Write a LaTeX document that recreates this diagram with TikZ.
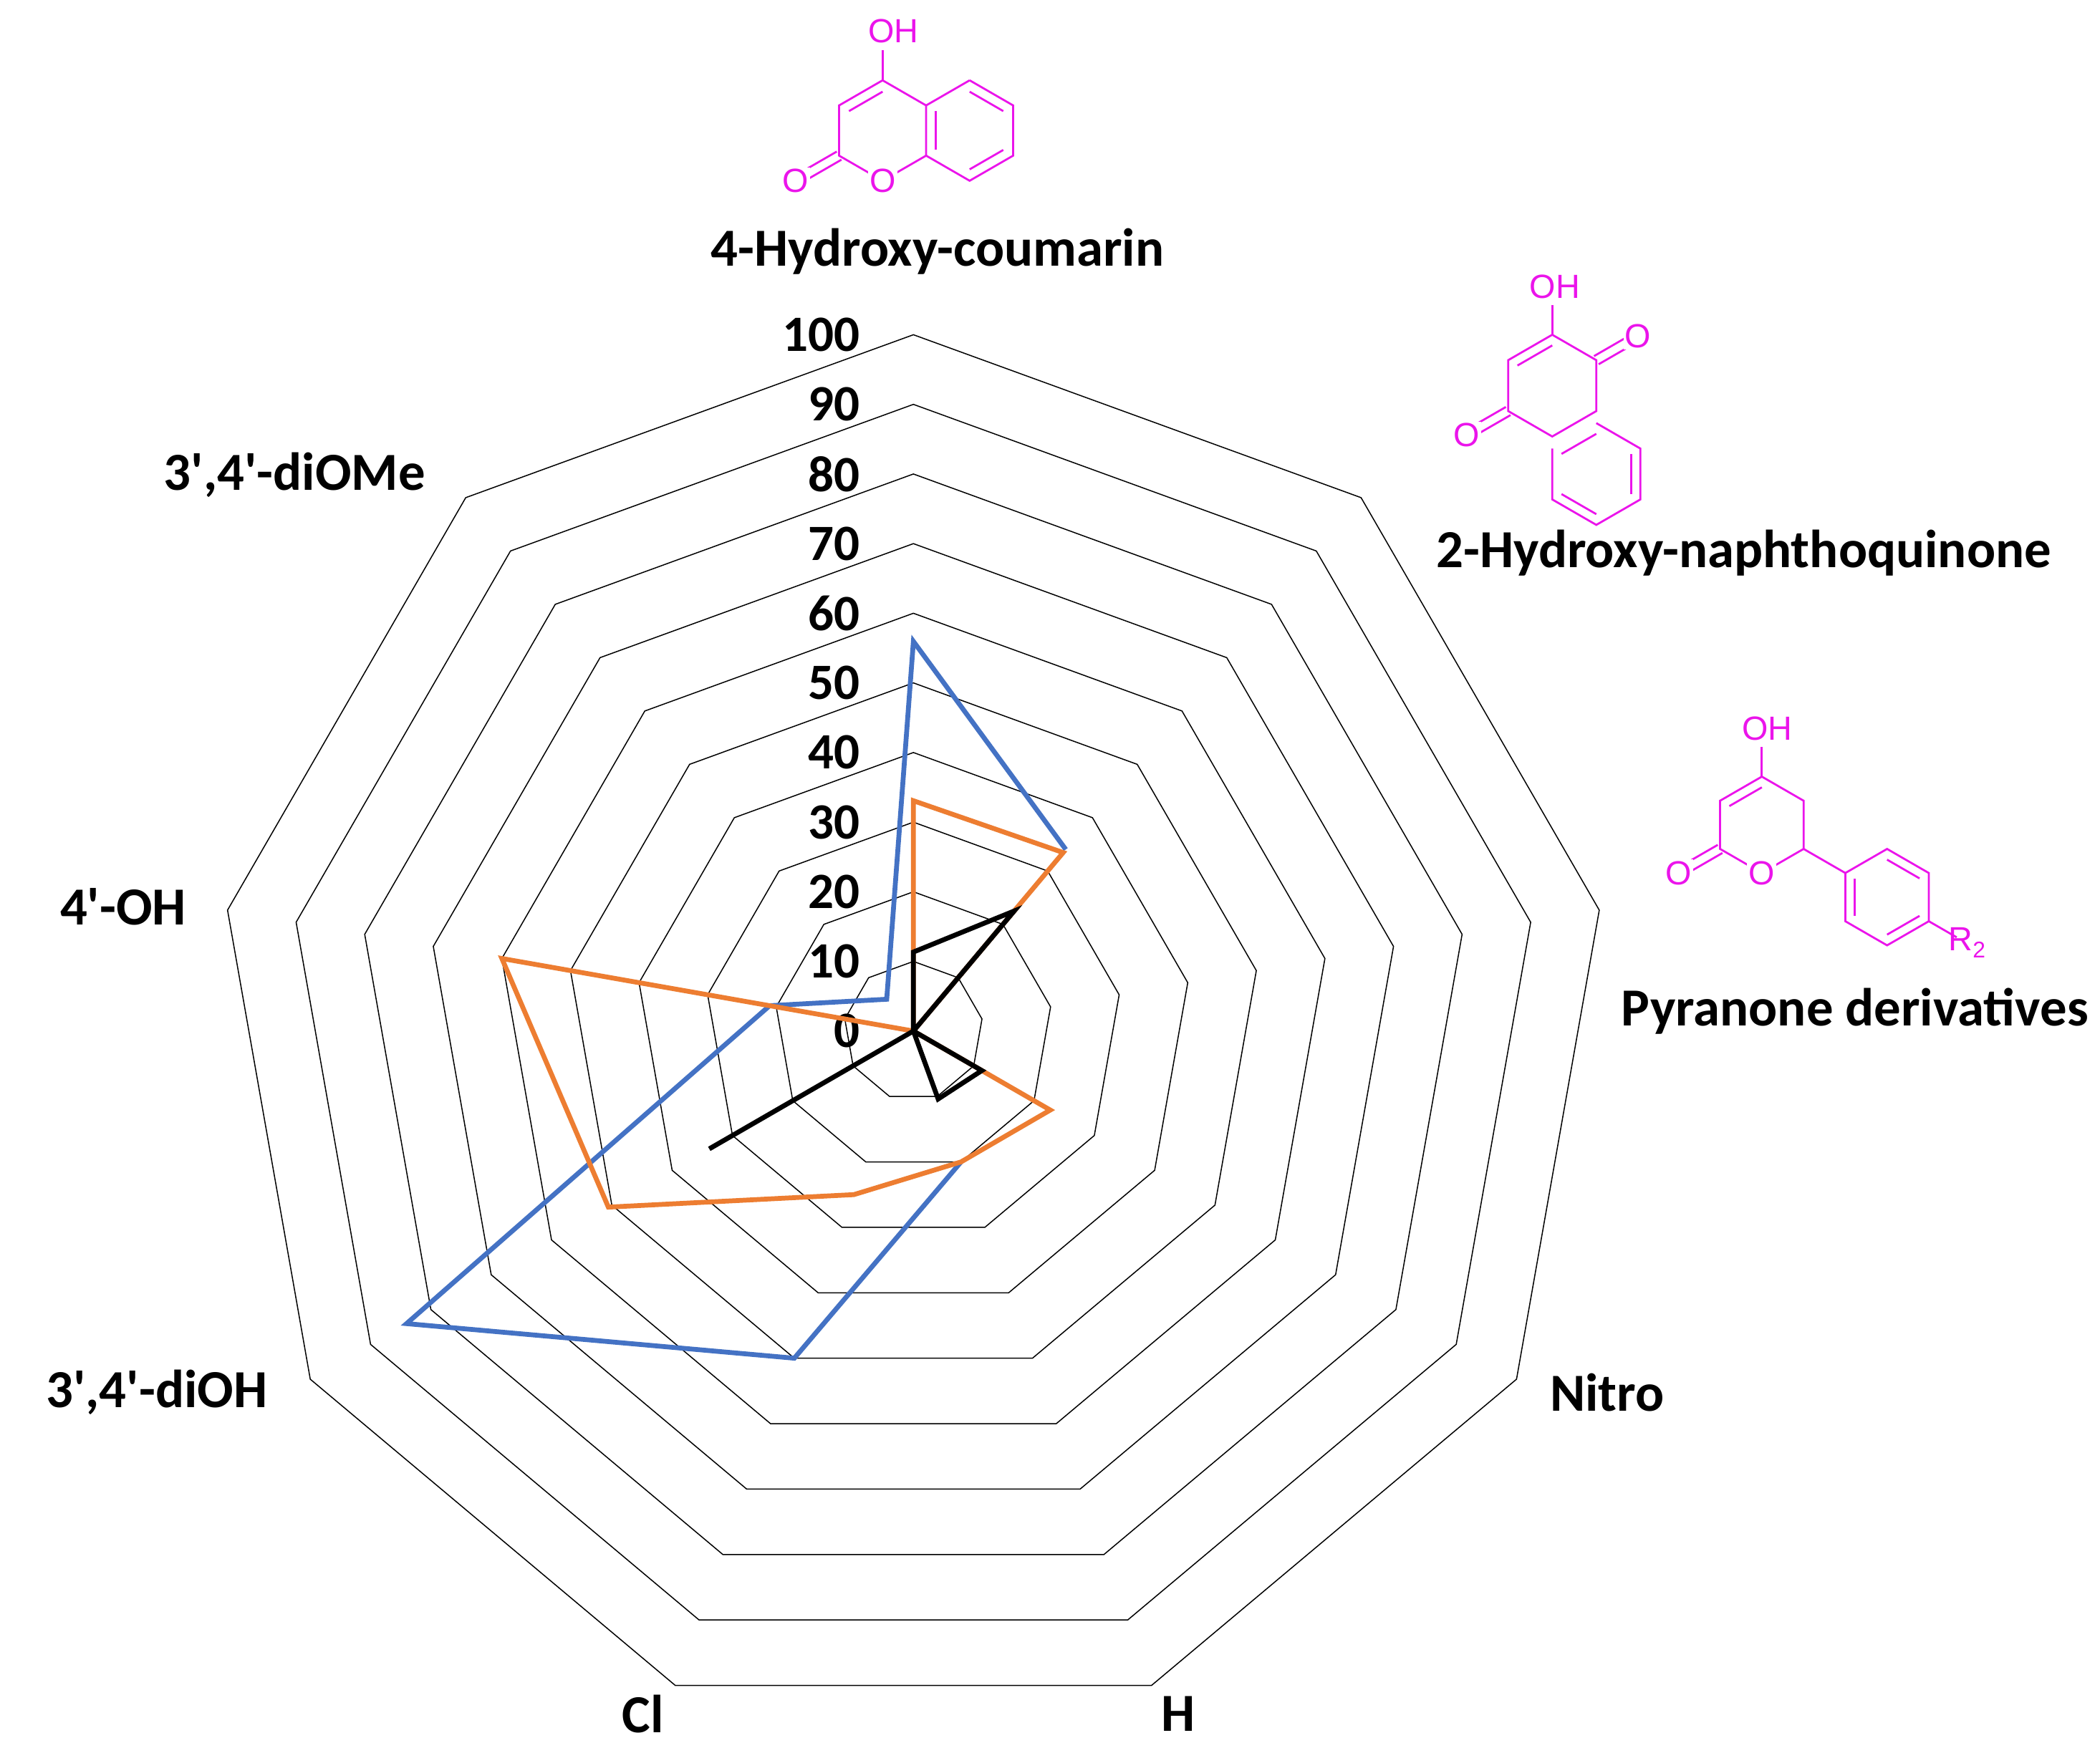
\documentclass[tikz,border=0pt]{standalone}
\usetikzlibrary{calc}
\usepackage{fontspec}
\setmainfont{Carlito}
\newfontfamily\molfont{Liberation Sans}
\definecolor{mag}{RGB}{235,20,235}
\definecolor{sblue}{RGB}{68,114,196}
\definecolor{sorange}{RGB}{237,125,49}
\newcommand\sq{\textquotesingle}
\begin{document}
\begin{tikzpicture}[x=1pt,y=1pt,
  grid/.style={draw=black,line width=0.8pt,line join=miter},
  ser/.style={line width=3.6pt,line join=miter},
  lab/.style={font=\fontsize{40}{40}\selectfont\bfseries,inner sep=0pt},
  num/.style={font=\fontsize{38}{38}\selectfont\bfseries,inner sep=0pt,anchor=east},
  mol/.style={draw=mag,line width=1.5pt},
  atom/.style={text=mag,font=\fontsize{25}{25}\molfont,inner sep=1.2pt,fill=white}]
\useasboundingbox (0,0) rectangle (1568,1305);
\fill[white] (0,0) rectangle (1568,1305);
% ---------- radar grid ----------
\begin{scope}[shift={(682,535)}]
\foreach \k in {1,...,10}{
  \pgfmathsetmacro\r{52*\k}
  \draw[grid] (90:\r) \foreach \a in {50,10,-30,-70,-110,-150,170,130}{ -- (\a:\r)} -- cycle;
}
\foreach \k in {0,...,10}{
  \pgfmathtruncatemacro\v{10*\k}
  \node[num] (n\k) at (-40,52*\k) {\v};
}
% blue (blank at axes 2 and 3)
\draw[ser,sblue] (-70:104) -- (-110:260) -- (-150:437) -- (170:109) -- (130:31) -- (90:291) -- (50:177);
% orange
\draw[ser,sorange] (90:172) -- (50:174) -- (10:0) -- (-30:118) -- (-70:104) -- (-110:130) -- (-150:263) -- (170:312) -- (130:0) -- cycle;
% black
\draw[ser,black] (90:59) -- (50:117) -- (10:0) -- (-30:59) -- (-70:54) -- (-110:0) -- (-150:176) -- (170:0) -- (130:0) -- cycle;
\end{scope}
% ---------- axis labels ----------
\node[lab] (l0) at (700,1117) {4-Hydroxy-coumarin};
\node[lab] (l1) at (1302,892) {2-Hydroxy-naphthoquinone};
\node[lab] (l2) at (1385,550) {Pyranone derivatives};
\node[lab] (l3) at (1200,265) {Nitro};
\node[lab] (l4) at (880,25) {H};
\node[lab] (l5) at (480,25) {Cl};
\node[lab] (l6) at (117,265) {3\sq,4\sq-diOH};
\node[lab] (l7) at (92,628) {4\sq-OH};
\node[lab] (l8) at (220,950) {3\sq,4\sq-diOMe};
% ---------- 4-hydroxycoumarin ----------
\begin{scope}[shift={(659,1207.5)}]
\draw[mol] (90:37.5) -- (150:37.5) -- (210:37.5) -- (270:37.5) -- (330:37.5) -- (30:37.5) -- cycle;
\draw[mol] (90:29) -- (150:29);
\draw[mol] (90:37.5) -- (0,60);
\node[atom,fill=none] (c_oh) at (8,74) {OH};
\draw[mol] ($(210:37.5)+(120:3.5)$) -- ($(210:66)+(120:3.5)$);
\draw[mol] ($(210:37.5)+(-60:3.5)$) -- ($(210:66)+(-60:3.5)$);
\node[atom] (c_o2) at (210:75) {O};
\node[atom] (c_o1) at (270:37.5) {O};
\begin{scope}[shift={(65,0)}]
\draw[mol] (90:37.5) -- (30:37.5) -- (330:37.5) -- (270:37.5) -- (210:37.5);
\draw[mol] (90:29) -- (30:29);
\draw[mol] (330:29) -- (270:29);
\draw[mol] (210:29) -- (150:29);
\draw[mol] (90:37.5) -- (150:37.5);
\end{scope}
\end{scope}
% ---------- 2-hydroxynaphthoquinone ----------
\begin{scope}[shift={(1159,1017)}]
\draw[mol] (90:38) -- (150:38) -- (210:38) -- (270:38) -- (330:38) -- (30:38) -- cycle;
\draw[mol] (90:30) -- (150:30);
\draw[mol] (90:38) -- (0,60);
\node[atom,fill=none] (n_oh) at (2,74) {OH};
\draw[mol] ($(30:38)+(120:3.5)$) -- ($(30:64)+(120:3.5)$);
\draw[mol] ($(30:38)+(-60:3.5)$) -- ($(30:64)+(-60:3.5)$);
\node[atom] (n_o1) at (30:74) {O};
\draw[mol] ($(210:38)+(120:3.5)$) -- ($(210:64)+(120:3.5)$);
\draw[mol] ($(210:38)+(-60:3.5)$) -- ($(210:64)+(-60:3.5)$);
\node[atom] (n_o4) at (210:74) {O};
\end{scope}
\begin{scope}[shift={(1191.9,951)}]
\draw[mol] (90:38) -- (30:38) -- (330:38) -- (270:38) -- (210:38) -- (150:38);
\draw[mol] (90:30) -- (150:30);
\draw[mol] (30:30) -- (330:30);
\draw[mol] (270:30) -- (210:30);
\end{scope}
% ---------- pyranone ----------
\begin{scope}[shift={(1315.5,689)}]
\draw[mol] (90:36) -- (150:36) -- (210:36) -- (270:36) -- (330:36) -- (30:36) -- cycle;
\draw[mol] (90:28) -- (150:28);
\draw[mol] (90:36) -- (0,58);
\node[atom,fill=none] (p_oh) at (4,72) {OH};
\draw[mol] ($(210:36)+(120:3.5)$) -- ($(210:62)+(120:3.5)$);
\draw[mol] ($(210:36)+(-60:3.5)$) -- ($(210:62)+(-60:3.5)$);
\node[atom] (p_o2) at (210:72) {O};
\node[atom] (p_o1) at (270:36) {O};
\draw[mol] (330:36) -- ++(330:36);
\end{scope}
\begin{scope}[shift={(1409,635)}]
\draw[mol] (150:36) -- (90:36) -- (30:36) -- (330:36) -- (270:36) -- (210:36) -- cycle;
\draw[mol] (90:28) -- (30:28);
\draw[mol] (330:28) -- (270:28);
\draw[mol] (210:28) -- (150:28);
\draw[mol] (330:36) -- ++(330:24);
\node[atom,fill=none,anchor=west] (p_r) at ($(330:56)+(-4,-6)$) {R\raisebox{-5pt}{\fontsize{17}{17}\selectfont 2}};
\end{scope}
\end{tikzpicture}
\end{document}
